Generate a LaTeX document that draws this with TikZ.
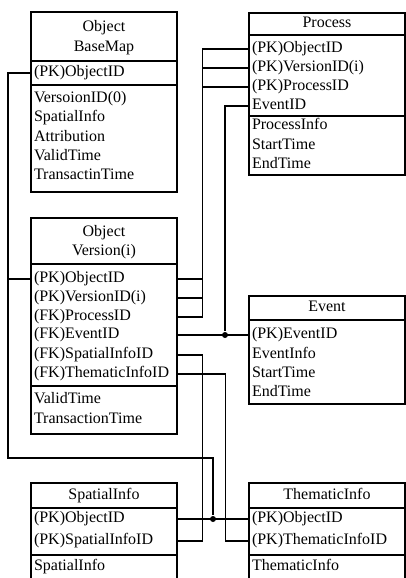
\documentclass[tikz,border=0pt]{standalone}
\usepackage{fontspec}
\setmainfont{Liberation Serif}
\usetikzlibrary{positioning}

\begin{document}
\begin{tikzpicture}[
  x=1pt, y=-1pt, line width=1.1pt,
  lcell/.style={text width=140pt, inner xsep=3pt, inner ysep=0pt, align=left,
                text height=11pt, text depth=3.5pt,
                font=\fontsize{16}{19.5}\selectfont},
  rcell/.style={lcell, text width=150pt},
  lhead/.style={lcell, align=center},
  rhead/.style={rcell, align=center},
  jdot/.style={circle, fill, inner sep=0pt, minimum size=6pt}
]
  \useasboundingbox (0,0) rectangle (406,578);
  \clip (0,0) rectangle (406,578);
  % Object BaseMap
  \node[lhead] (bm-title) at (104,28)  {Object};
  \node[lhead] (bm-name)  at (104,48)  {BaseMap};
  \node[lcell] (bm-oid)   at (104,73)  {(PK)ObjectID};
  \node[lcell] (bm-vid)   at (104,99)  {VersoionID(0)};
  \node[lcell] (bm-sp)    at (104,118) {SpatialInfo};
  \node[lcell] (bm-at)    at (104,138) {Attribution};
  \node[lcell] (bm-vt)    at (104,157) {ValidTime};
  \node[lcell] (bm-tt)    at (104,176) {TransactinTime};
  \draw (31,12) rectangle (177,192) (31,61) -- (177,61) (31,85) -- (177,85);
  % Process
  \node[rhead] (pr-title) at (327,24)  {Process};
  \node[rcell] (pr-oid)   at (327,49)  {(PK)ObjectID};
  \node[rcell] (pr-vid)   at (327,68)  {(PK)VersionID(i)};
  \node[rcell] (pr-pid)   at (327,87)  {(PK)ProcessID};
  \node[rcell] (pr-eid)   at (327,106) {EventID};
  \node[rcell] (pr-info)  at (327,126) {ProcessInfo};
  \node[rcell] (pr-st)    at (327,146) {StartTime};
  \node[rcell] (pr-et)    at (327,165) {EndTime};
  \draw (249,13) rectangle (405,175) (249,35) -- (405,35) (249,116) -- (405,116);
  % Object Version(i)
  \node[lhead] (vr-title) at (104,233) {Object};
  \node[lhead] (vr-name)  at (104,252) {Version(i)};
  \node[lcell] (vr-oid)   at (104,279) {(PK)ObjectID};
  \node[lcell] (vr-vid)   at (104,298) {(PK)VersionID(i)};
  \node[lcell] (vr-pid)   at (104,317) {(FK)ProcessID};
  \node[lcell] (vr-eid)   at (104,335) {(FK)EventID};
  \node[lcell] (vr-sid)   at (104,355) {(FK)SpatialInfoID};
  \node[lcell] (vr-tid)   at (104,374) {(FK)ThematicInfoID};
  \node[lcell] (vr-vt)    at (104,400) {ValidTime};
  \node[lcell] (vr-tt)    at (104,420) {TransactionTime};
  \draw (31,218) rectangle (177,434) (31,264) -- (177,264) (31,386) -- (177,386);
  % Event
  \node[rhead] (ev-title) at (327,308) {Event};
  \node[rcell] (ev-eid)   at (327,335) {(PK)EventID};
  \node[rcell] (ev-info)  at (327,355) {EventInfo};
  \node[rcell] (ev-st)    at (327,374) {StartTime};
  \node[rcell] (ev-et)    at (327,393) {EndTime};
  \draw (249,296) rectangle (405,404) (249,320) -- (405,320);
  % SpatialInfo
  \node[lhead] (si-title) at (104,496) {SpatialInfo};
  \node[lcell] (si-oid)   at (104,519) {(PK)ObjectID};
  \node[lcell] (si-sid)   at (104,541) {(PK)SpatialInfoID};
  \node[lcell] (si-info)  at (104,567) {SpatialInfo};
  \draw (31,483) rectangle (177,590) (31,508) -- (177,508) (31,555) -- (177,555);
  % ThematicInfo
  \node[rhead] (th-title) at (327,496) {ThematicInfo};
  \node[rcell] (th-oid)   at (327,519) {(PK)ObjectID};
  \node[rcell] (th-tid)   at (327,541) {(PK)ThematicInfoID};
  \node[rcell] (th-info)  at (327,567) {ThematicInfo};
  \draw (249,483) rectangle (405,590) (249,508) -- (405,508) (249,555) -- (405,555);
  % junctions
  \node[jdot] (ja) at (225,335) {};
  \node[jdot] (jb) at (213,519) {};
  % links
  \draw (bm-oid.west) -| (8,458) -| (jb);
  \draw (bm-oid.west) -- ++(-23,0) |- (vr-oid.west);
  \draw (vr-oid.east) -- ++(25,0) |- (pr-oid.west);
  \draw (vr-vid.east) -- ++(25,0) |- (pr-vid.west);
  \draw (vr-pid.east) -- ++(25,0) |- (pr-pid.west);
  \draw (vr-eid.east) -- (ev-eid.west);
  \draw (pr-eid.west) -| (ja);
  \draw (vr-sid.east) -- ++(25,0) |- (si-sid.east);
  \draw (vr-tid.east) -- ++(48,0) |- (th-tid.west);
  \draw (si-oid.east) -- (th-oid.west);
\end{tikzpicture}
\end{document}
